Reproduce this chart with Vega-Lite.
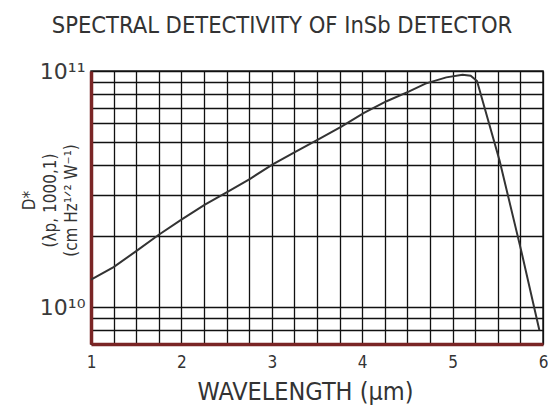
{
  "$schema": "https://vega.github.io/schema/vega-lite/v6.json",
  "width": 452,
  "height": 273,
  "autosize": {"type": "none"},
  "padding": {"left": 91, "top": 71, "right": 5, "bottom": 63},
  "background": "white",
  "title": {
    "text": "SPECTRAL DETECTIVITY OF InSb DETECTOR",
    "font": "DejaVu Sans Condensed",
    "fontSize": 23.5,
    "fontWeight": "normal",
    "color": "#333333",
    "anchor": "middle",
    "dx": -35,
    "offset": 23
  },
  "config": {
    "view": {"stroke": "#222222", "strokeWidth": 1.5}
  },
  "data": {
    "values": [
      {"w": 1.0, "d": 1.31e10},
      {"w": 1.25, "d": 1.48e10},
      {"w": 1.5, "d": 1.73e10},
      {"w": 1.75, "d": 2.03e10},
      {"w": 2.0, "d": 2.35e10},
      {"w": 2.26, "d": 2.72e10},
      {"w": 2.51, "d": 3.08e10},
      {"w": 2.76, "d": 3.5e10},
      {"w": 3.01, "d": 4.03e10},
      {"w": 3.26, "d": 4.55e10},
      {"w": 3.52, "d": 5.15e10},
      {"w": 3.77, "d": 5.82e10},
      {"w": 4.02, "d": 6.65e10},
      {"w": 4.27, "d": 7.45e10},
      {"w": 4.52, "d": 8.2e10},
      {"w": 4.7, "d": 8.84e10},
      {"w": 4.93, "d": 9.4e10},
      {"w": 5.11, "d": 9.65e10},
      {"w": 5.2, "d": 9.55e10},
      {"w": 5.27, "d": 9.07e10},
      {"w": 5.52, "d": 4.17e10},
      {"w": 5.76, "d": 1.73e10},
      {"w": 5.96, "d": 8.0e9}
    ]
  },
  "mark": {"type": "line", "color": "#333333", "strokeWidth": 2, "clip": true},
  "encoding": {
    "x": {
      "field": "w",
      "type": "quantitative",
      "scale": {"domain": [1, 6], "nice": false, "zero": false},
      "axis": {
        "values": [1, 1.25, 1.5, 1.75, 2, 2.25, 2.5, 2.75, 3, 3.25, 3.5, 3.75, 4, 4.25, 4.5, 4.75, 5, 5.25, 5.5, 5.75, 6],
        "labelExpr": "datum.value % 1 == 0 ? format(datum.value, 'd') : ''",
        "grid": true,
        "gridColor": "#111111",
        "gridWidth": 1.3,
        "gridOpacity": 1,
        "ticks": false,
        "domainColor": "#7a2525",
        "domainWidth": 3.5,
        "labelFont": "DejaVu Sans Condensed",
        "labelFontSize": 17,
        "labelColor": "#333333",
        "labelPadding": 10,
        "labelFlush": false,
        "labelOverlap": false,
        "title": "WAVELENGTH (µm)",
        "titleFont": "DejaVu Sans Condensed",
        "titleFontSize": 25,
        "titleFontWeight": "normal",
        "titleColor": "#333333",
        "titleX": 214,
        "titlePadding": 9
      }
    },
    "y": {
      "field": "d",
      "type": "quantitative",
      "scale": {"type": "log", "domain": [7e9, 1e11], "nice": false},
      "axis": {
        "values": [7e9, 8e9, 9e9, 1e10, 2e10, 3e10, 4e10, 5e10, 6e10, 7e10, 8e10, 9e10, 1e11],
        "labelExpr": "datum.value == 1e11 ? '10¹¹' : (datum.value == 1e10 ? '10¹⁰' : '')",
        "grid": true,
        "gridColor": "#111111",
        "gridWidth": 1.3,
        "gridOpacity": 1,
        "ticks": false,
        "domainColor": "#7a2525",
        "domainWidth": 3.5,
        "labelFont": "DejaVu Sans",
        "labelFontSize": 22,
        "labelFontWeight": "normal",
        "labelColor": "#3a3a3a",
        "labelPadding": 6,
        "labelOverlap": false,
        "labelBaseline": "middle",
        "labelFlush": false,
        "title": ["D*", "(λp, 1000,1)", "(cm Hz¹ᐟ² W⁻¹)"],
        "titleFont": "DejaVu Sans Condensed",
        "titleFontSize": 17,
        "titleFontWeight": "normal",
        "titleColor": "#333333",
        "titleLineHeight": 21,
        "titleAngle": -90,
        "titleX": -70,
        "titleY": 129,
        "titleAlign": "center",
        "titleBaseline": "top"
      }
    }
  }
}
